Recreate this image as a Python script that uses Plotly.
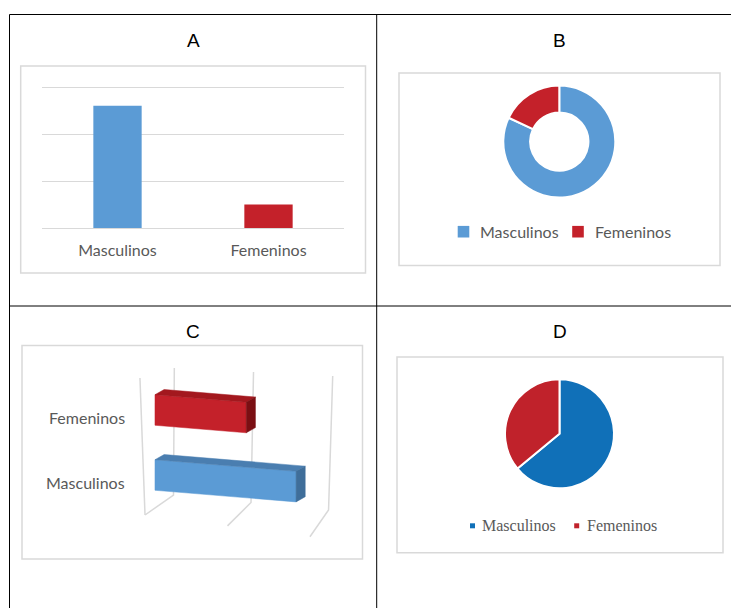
import plotly.graph_objects as go

W, H = 731, 608

# ---------------- data ----------------
categories = ["Masculinos", "Femeninos"]
panel_titles = ["A", "B", "C", "D"]

bar_values_A = [26, 5]          # panel A (vertical bars)
value_ticks_A = [0, 10, 20, 30]

donut_values_B = [82, 18]       # panel B (donut)

bar3d_values_C = [17, 11]       # panel C (3-D horizontal bars)
value_ticks_C = [0, 10, 20]

pie_values_D = [64, 36]         # panel D (pie)

# ---------------- styles ----------------
colors_A = ["#5B9BD5", "#C4212A"]
colors_B = ["#5B9BD5", "#C4212A"]
colors_D = ["#1070B8", "#C0222B"]
front_C = ["#5B9BD5", "#C4212A"]
top_C = ["#4A7EB0", "#A3181E"]
side_C = ["#3F6E9A", "#7B0F13"]
GRID = "#D9D9D9"
TXT = "#595959"
SANS = "Lato, 'Open Sans', sans-serif"
SERIF = "'Liberation Serif', 'DejaVu Serif', serif"
LABEL_SIZE = 16


def px(x):
    return x / W


def py(y):
    return 1 - y / H


fig = go.Figure()

# ---------------- Panel A : bar chart ----------------
fig.add_trace(go.Bar(
    x=categories, y=bar_values_A, width=0.32,
    marker=dict(color=colors_A, line=dict(width=0)),
    xaxis="x", yaxis="y", showlegend=False, hoverinfo="x+y"))

# ---------------- Panel B : donut ----------------
cxB, cyB, rB = 559.3, 141.6, 56
fig.add_trace(go.Pie(
    values=donut_values_B, labels=categories, hole=0.52, sort=False,
    direction="clockwise", rotation=0, textinfo="none",
    marker=dict(colors=colors_B, line=dict(color="white", width=2)),
    domain=dict(x=[px(cxB - rB), px(cxB + rB)], y=[py(cyB + rB), py(cyB - rB)]),
    showlegend=False))

# ---------------- Panel D : pie ----------------
cxD, cyD, rD = 559.5, 433.8, 54.5
fig.add_trace(go.Pie(
    values=pie_values_D, labels=categories, sort=False,
    direction="clockwise", rotation=0, textinfo="none",
    marker=dict(colors=colors_D, line=dict(color="white", width=2)),
    domain=dict(x=[px(cxD - rD), px(cxD + rD)], y=[py(cyD + rD), py(cyD - rD)]),
    showlegend=False))

# ---------------- Panel C : pseudo 3-D bars ----------------
SHEAR = -0.0105     # front face drop per value unit
HALF = 0.235        # half thickness of a bar
DX, DY = 1.1, 0.08  # depth offset of the bar's back face


def lerp_line(a0, a1, t):
    return a0 + a1 * t


for t in value_ticks_C:
    xs = [lerp_line(2.33, 0.954, t), lerp_line(2.23, 0.934, t), lerp_line(-1.20, 0.9935, t)]
    ys = [lerp_line(1.646, -0.0062, t), lerp_line(-0.308, -0.0115, t), lerp_line(-0.615, -0.0167, t)]
    fig.add_trace(go.Scatter(x=xs, y=ys, mode="lines", line=dict(color=GRID, width=1.5),
                             xaxis="x2", yaxis="y2", showlegend=False, hoverinfo="skip"))
t0 = value_ticks_C[0]
fig.add_trace(go.Scatter(x=[lerp_line(-1.20, 0.9935, t0), -1.81],
                         y=[lerp_line(-0.615, -0.0167, t0), 1.492],
                         mode="lines", line=dict(color=GRID, width=1.5),
                         xaxis="x2", yaxis="y2", showlegend=False, hoverinfo="skip"))

for i, (cat, v) in enumerate(zip(categories, bar3d_values_C)):
    c = float(i)
    fl_b, fl_t = c - HALF, c + HALF
    fr_b, fr_t = c - HALF + SHEAR * v, c + HALF + SHEAR * v
    faces = [
        ([0, v, v, 0, 0], [fl_b, fr_b, fr_t, fl_t, fl_b], front_C[i]),
        ([0, v, v + DX, DX, 0], [fl_t, fr_t, fr_t + DY, fl_t + DY, fl_t], top_C[i]),
        ([v, v + DX, v + DX, v, v], [fr_t, fr_t + DY, fr_b + DY, fr_b, fr_t], side_C[i]),
    ]
    for xs, ys, col in faces:
        fig.add_trace(go.Scatter(x=xs, y=ys, mode="lines", fill="toself", fillcolor=col,
                                 line=dict(width=0.5, color=col), xaxis="x2", yaxis="y2",
                                 showlegend=False, hoverinfo="skip"))
    fig.add_annotation(x=-3.37, y=c - 0.11, xref="x2", yref="y2", text=cat,
                       showarrow=False, xanchor="right", yanchor="middle",
                       font=dict(family=SANS, size=LABEL_SIZE, color=TXT))

# ---------------- shapes: table + chart frames ----------------
shapes = []
for (x0, y0, x1, y1) in [(9.5, 14.5, 731, 14.5), (9.5, 306, 731, 306),
                         (9.5, 14.5, 9.5, 608), (376.7, 14.5, 376.7, 608)]:
    shapes.append(dict(type="line", xref="paper", yref="paper",
                       x0=px(x0), y0=py(y0), x1=px(x1), y1=py(y1),
                       line=dict(color="black", width=1)))
for (x0, y0, x1, y1) in [(20.7, 66, 365.5, 273), (399, 73, 720, 265.5),
                         (22, 345.5, 362.5, 559), (397, 357, 723, 552.7)]:
    shapes.append(dict(type="rect", xref="paper", yref="paper",
                       x0=px(x0), y0=py(y0), x1=px(x1), y1=py(y1),
                       line=dict(color=GRID, width=1.5), fillcolor="rgba(0,0,0,0)", layer="below"))

legend_B = [(463.5, 231.7, 11.6, 478.3), (578.0, 231.7, 11.6, 593.3)]
legend_D = [(472.5, 525.8, 5.0, 480.0), (576.7, 525.8, 5.0, 585.0)]
for k, (mx, my, s, tx) in enumerate(legend_B):
    shapes.append(dict(type="rect", xref="paper", yref="paper",
                       x0=px(mx - s / 2), x1=px(mx + s / 2), y0=py(my + s / 2), y1=py(my - s / 2),
                       line=dict(width=0), fillcolor=colors_B[k]))
    fig.add_annotation(x=px(tx), y=py(my), xref="paper", yref="paper", text=categories[k],
                       showarrow=False, xanchor="left", yanchor="middle",
                       font=dict(family=SANS, size=LABEL_SIZE, color=TXT))
for k, (mx, my, s, tx) in enumerate(legend_D):
    shapes.append(dict(type="rect", xref="paper", yref="paper",
                       x0=px(mx - s / 2), x1=px(mx + s / 2), y0=py(my + s / 2), y1=py(my - s / 2),
                       line=dict(width=0), fillcolor=colors_D[k]))
    fig.add_annotation(x=px(tx), y=py(my), xref="paper", yref="paper", text=categories[k],
                       showarrow=False, xanchor="left", yanchor="middle",
                       font=dict(family=SERIF, size=16, color=TXT))

for title, (tx, ty) in zip(panel_titles, [(193.3, 40.5), (559.7, 40.5), (193.0, 331.7), (560.3, 331.7)]):
    fig.add_annotation(x=px(tx), y=py(ty), xref="paper", yref="paper", text=title,
                       showarrow=False, xanchor="center", yanchor="middle",
                       font=dict(family="'Liberation Sans', Arial, sans-serif", size=19, color="black"))

# panel A: value 30 must sit at y=87, value 0 at y=228 (4.7 px per unit)
A_TOP = 30.5
fig.update_layout(
    width=W, height=H, margin=dict(l=0, r=0, t=0, b=0),
    paper_bgcolor="white", plot_bgcolor="rgba(0,0,0,0)",
    shapes=shapes, showlegend=False,
    xaxis=dict(domain=[px(42), px(344)], range=[-0.5, 1.5], showgrid=False, zeroline=False,
               showline=False, ticks="", ticklabelstandoff=11,
               tickfont=dict(family=SANS, size=LABEL_SIZE, color=TXT), fixedrange=True),
    yaxis=dict(domain=[py(228), py(228 - 4.7 * A_TOP)], range=[0, A_TOP], tickvals=value_ticks_A,
               showgrid=True, gridcolor=GRID, gridwidth=1.3, zeroline=True, zerolinecolor=GRID,
               zerolinewidth=1.3, showticklabels=False, ticks="", fixedrange=True),
    xaxis2=dict(domain=[px(22), px(362)], range=[-16.02, 24.94], visible=False, fixedrange=True),
    yaxis2=dict(domain=[py(559), py(345)], range=[-1.292, 2.0], visible=False, fixedrange=True),
)

fig.write_html("out.html", config={"displayModeBar": False},
               post_script="document.body.style.margin='0';document.body.style.overflow='hidden';")
